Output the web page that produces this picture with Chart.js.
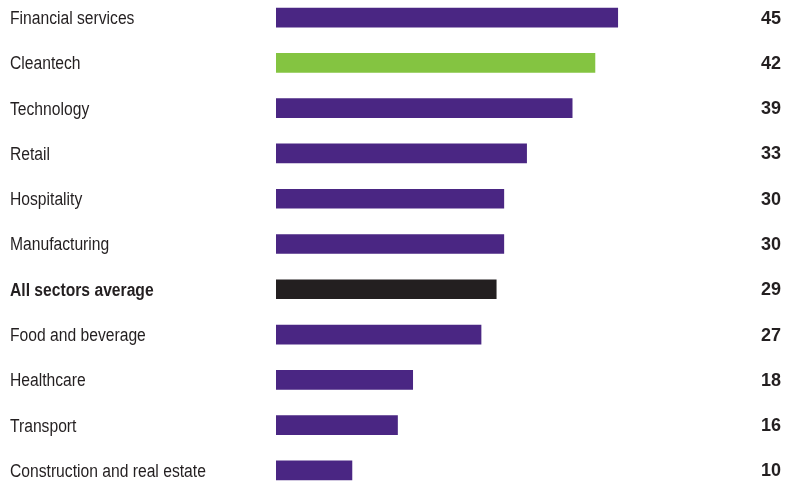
<!DOCTYPE html>
<html>
<head>
<meta charset="utf-8">
<script src="https://cdn.jsdelivr.net/npm/chart.js@4"></script>
<style>
  html, body { margin: 0; padding: 0; background: #fff; overflow: hidden; }
  #sectors { position: absolute; left: 0; top: -5px; }
</style>
</head>
<body>
<canvas id="sectors" width="797" height="498"></canvas>
<script>
// sectors, top to bottom
const sectors = [
  'Financial services', 'Cleantech', 'Technology', 'Retail', 'Hospitality',
  'Manufacturing', 'All sectors average', 'Food and beverage', 'Healthcare',
  'Transport', 'Construction and real estate'
];
const scores = [45, 42, 39, 33, 30, 30, 29, 27, 18, 16, 10];
const highlight = ['', 'green', '', '', '', '', 'average', '', '', '', ''];

const PURPLE = '#4a2683';
const GREEN = '#84c441';
const BLACK = '#231f20';
const TEXT = '#231f20';

const barColors = highlight.map(function(h){
  if (h === 'green') return GREEN;
  if (h === 'average') return BLACK;
  return PURPLE;
});

// sector names in a narrow face on the left, scores in bold on the right
const rowText = {
  id: 'rowText',
  afterDatasetsDraw(chart) {
    const ctx = chart.ctx;
    const yScale = chart.scales.y;
    ctx.save();
    ctx.fillStyle = TEXT;
    ctx.textBaseline = 'middle';
    sectors.forEach(function(name, i){
      const y = yScale.getPixelForTick(i);
      ctx.save();
      ctx.font = (highlight[i] === 'average' ? 'bold ' : '') + '18px "Liberation Sans", Arial, sans-serif';
      ctx.textAlign = 'left';
      ctx.translate(10, y + 1.5);
      ctx.scale(0.87, 1);
      ctx.fillText(name, 0, 0);
      ctx.restore();

      ctx.font = 'bold 18px "Liberation Sans", Arial, sans-serif';
      ctx.textAlign = 'right';
      ctx.fillText(String(scores[i]), chart.chartArea.right, y + 1);
    });
    ctx.restore();
  }
};

const ctx = document.getElementById('sectors');
new Chart(ctx, {
  type: 'bar',
  data: {
    labels: sectors,
    datasets: [{
      data: scores,
      backgroundColor: barColors,
      barThickness: 19,
      borderWidth: 0
    }]
  },
  options: {
    indexAxis: 'y',
    responsive: false,
    animation: false,
    layout: { padding: { left: 10, right: 16, top: 0, bottom: 0 } },
    plugins: { legend: { display: false }, tooltip: { enabled: false } },
    scales: {
      x: {
        min: 0,
        max: 66.5,
        display: false
      },
      y: {
        grid: { display: false, drawTicks: false },
        border: { display: false },
        ticks: { display: false },
        afterFit(scale) { scale.width = 266; }
      }
    }
  },
  plugins: [rowText]
});
</script>
</body>
</html>
